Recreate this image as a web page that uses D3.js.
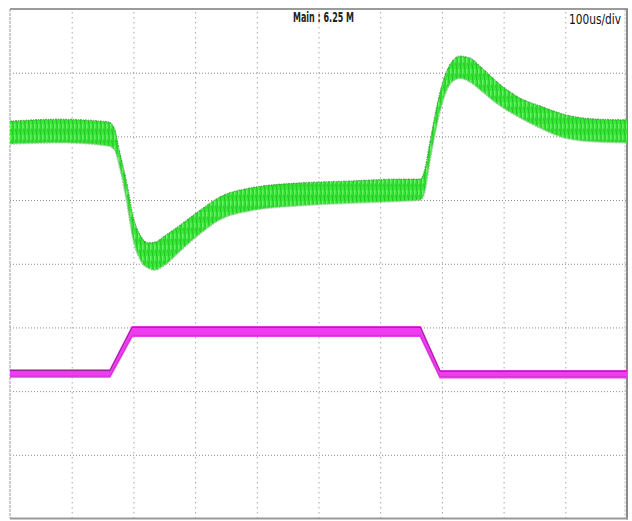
<!DOCTYPE html>
<html><head><meta charset="utf-8">
<script src="https://cdn.jsdelivr.net/npm/d3@7"></script>
<style>html,body{margin:0;padding:0;background:#fff;} svg{display:block}</style>
</head><body>
<script>
// time axis: microseconds (100 us/div, 10 div); vertical axis: divisions (-4..4)
const greenTime  = [0, 81, 159, 169, 178, 190, 199, 211, 224, 235, 251, 276, 308, 340, 389, 470, 551, 632, 665, 671, 681, 692, 705, 716, 729, 746, 762, 794, 827, 859, 900, 956, 1000];
const greenUpper = [2.24, 2.27, 2.23, 2.13, 1.75, 1.24, 0.77, 0.45, 0.33, 0.34, 0.44, 0.61, 0.84, 1.05, 1.19, 1.27, 1.30, 1.33, 1.33, 1.44, 1.94, 2.49, 2.96, 3.17, 3.26, 3.23, 3.10, 2.82, 2.60, 2.48, 2.34, 2.27, 2.26];
const greenLower = [1.88, 1.90, 1.85, 1.79, 1.50, 0.92, 0.40, 0.06, -0.07, -0.10, -0.02, 0.20, 0.47, 0.69, 0.83, 0.91, 0.95, 0.98, 1.00, 1.08, 1.63, 2.18, 2.65, 2.85, 2.91, 2.85, 2.73, 2.48, 2.29, 2.13, 1.97, 1.91, 1.90];
const magentaTime  = [0, 162, 198, 665, 697, 1000];
const magentaUpper = [-1.67, -1.67, -0.99, -0.99, -1.68, -1.68];
const magentaLower = [-1.78, -1.78, -1.14, -1.14, -1.79, -1.79];
const xTicks = [100, 200, 300, 400, 500, 600, 700, 800, 900];
const yTicks = [-3, -2, -1, 0, 1, 2, 3];
const headerLabel = "Main : 6.25 M";
const scaleLabel = "100us/div";

const W = 632, H = 521;
const L = 10, R = 627, T = 9, B = 518.5;
const x = d3.scaleLinear().domain([0, 1000]).range([L, R]);
const y = d3.scaleLinear().domain([-4, 4]).range([B, T]);

const svg = d3.select("body").append("svg").attr("width", W).attr("height", H);
const defs = svg.append("defs");
defs.append("clipPath").attr("id", "plotclip").append("rect")
  .attr("x", L).attr("y", T).attr("width", R - L).attr("height", B - T);

// noise texture of the green trace
const pat = defs.append("pattern").attr("id", "noise").attr("patternUnits", "userSpaceOnUse")
  .attr("width", 4).attr("height", 11);
pat.append("rect").attr("width", 4).attr("height", 11).attr("fill", "#36ec36");
pat.append("path").attr("d", "M0.5,0 L1.3,6 L0.7,11").attr("stroke", "#1a861a").attr("stroke-width", 0.8).attr("fill", "none").attr("opacity", 0.6);
pat.append("path").attr("d", "M2.6,3 L2.9,8").attr("stroke", "#c8f8c8").attr("stroke-width", 0.7).attr("fill", "none").attr("opacity", 0.7);
pat.append("path").attr("d", "M3.4,7 L3.6,11").attr("stroke", "#1a861a").attr("stroke-width", 0.6).attr("fill", "none").attr("opacity", 0.4);

// grid via axes
const gx = svg.append("g").attr("transform", `translate(0,${B})`)
  .call(d3.axisBottom(x).tickValues(xTicks).tickSize(-(B - T)).tickFormat(""));
gx.select(".domain").remove();
gx.selectAll("line").attr("stroke", "#a8a8a8").attr("stroke-width", 1).attr("stroke-dasharray", "1.5,3.5");

const gy = svg.append("g").attr("transform", `translate(${L},0)`)
  .call(d3.axisLeft(y).tickValues(yTicks).tickSize(-(R - L)).tickFormat(""));
gy.select(".domain").remove();
gy.selectAll("line").attr("stroke", "#8c8c8c").attr("stroke-width", 1).attr("stroke-dasharray", "1,2");

// frame
svg.append("line").attr("x1", L).attr("x2", L).attr("y1", T).attr("y2", B)
  .attr("stroke", "#bdbdbd").attr("stroke-width", 1.5).attr("stroke-dasharray", "3,1");
svg.append("line").attr("x1", R - 2).attr("x2", R - 2).attr("y1", T).attr("y2", B)
  .attr("stroke", "#c8c8c8").attr("stroke-width", 1).attr("stroke-dasharray", "3,1");
svg.append("line").attr("x1", L).attr("x2", R + 1).attr("y1", T).attr("y2", T)
  .attr("stroke", "#7a7a7a").attr("stroke-width", 1.5);
svg.append("line").attr("x1", R).attr("x2", R).attr("y1", T).attr("y2", B + 1)
  .attr("stroke", "#8a8a8a").attr("stroke-width", 2);
svg.append("line").attr("x1", L).attr("x2", R + 1).attr("y1", B).attr("y2", B)
  .attr("stroke", "#9a9a9a").attr("stroke-width", 2);

const plot = svg.append("g").attr("clip-path", "url(#plotclip)");

// green trace
const gData = greenTime.map((t, i) => ({t, u: greenUpper[i], l: greenLower[i]}));
const area = d3.area().x(d => x(d.t)).y0(d => y(d.l)).y1(d => y(d.u)).curve(d3.curveMonotoneX);
plot.append("path").datum(gData).attr("d", area).attr("fill", "url(#noise)");
plot.append("path").datum(gData)
  .attr("d", d3.line().x(d => x(d.t)).y(d => y(d.u)).curve(d3.curveMonotoneX))
  .attr("fill", "none").attr("stroke", "#3a7a3a").attr("stroke-width", 1.2)
  .attr("stroke-dasharray", "2,1,1,1").attr("opacity", 0.6);
plot.append("path").datum(gData)
  .attr("d", d3.line().x(d => x(d.t)).y(d => y(d.l)).curve(d3.curveMonotoneX))
  .attr("fill", "none").attr("stroke", "#98c898").attr("stroke-width", 1.6)
  .attr("stroke-dasharray", "2,1").attr("opacity", 0.8);

// magenta trace
const mData = magentaTime.map((t, i) => ({t, u: magentaUpper[i], l: magentaLower[i]}));
const mArea = d3.area().x(d => x(d.t)).y0(d => y(d.l)).y1(d => y(d.u));
plot.append("path").datum(mData).attr("d", mArea).attr("fill", "#f03cf0")
  .attr("stroke", "#f03cf0").attr("stroke-width", 1.5);
plot.append("path").datum(mData)
  .attr("d", d3.line().x(d => x(d.t)).y(d => y(d.u) + 0.5))
  .attr("fill", "none").attr("stroke", "#6a1a6a").attr("stroke-width", 1).attr("opacity", 0.7);
plot.append("path").datum(mData)
  .attr("d", d3.line().x(d => x(d.t)).y(d => y(d.l) - 1))
  .attr("fill", "none").attr("stroke", "#9a2a9a").attr("stroke-width", 0.8).attr("opacity", 0.5);

// labels
svg.append("text").attr("x", 323.5).attr("y", 22).attr("text-anchor", "middle")
  .attr("font-family", "'Liberation Sans Narrow','DejaVu Sans Condensed',sans-serif")
  .attr("font-size", 13.5).attr("font-weight", "bold").attr("fill", "#222")
  .attr("textLength", 61).attr("lengthAdjust", "spacingAndGlyphs").text(headerLabel);
svg.append("text").attr("x", 621).attr("y", 23.5).attr("text-anchor", "end")
  .attr("font-family", "'Liberation Sans Narrow','DejaVu Sans Condensed',sans-serif")
  .attr("font-size", 14).attr("fill", "#111")
  .attr("textLength", 52).attr("lengthAdjust", "spacingAndGlyphs").text(scaleLabel);
</script>
</body></html>
